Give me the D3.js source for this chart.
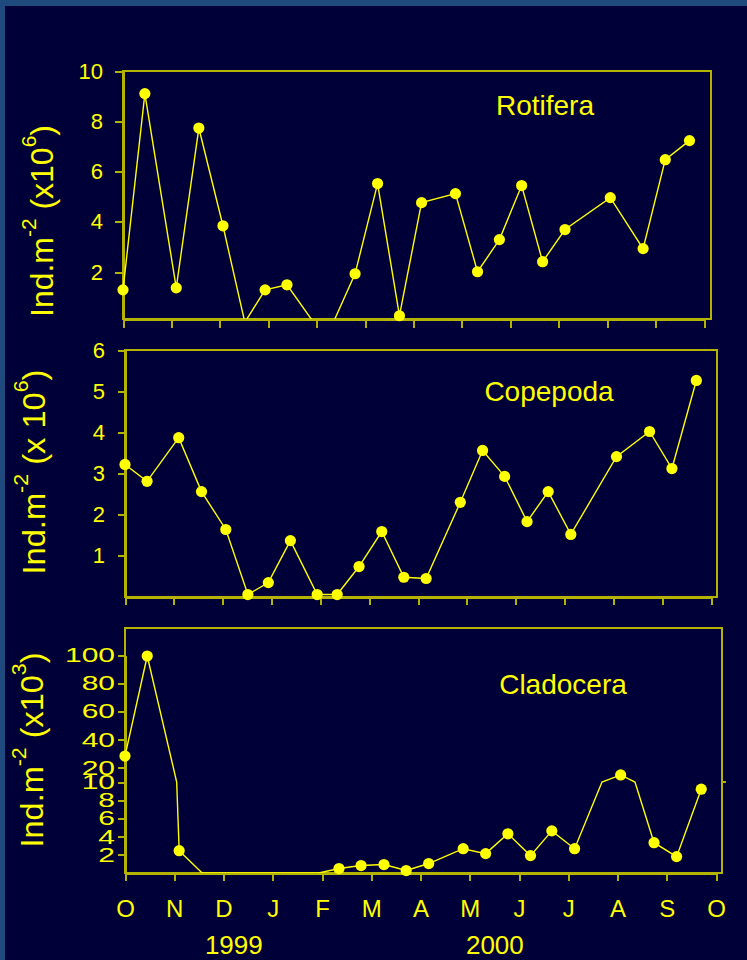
<!DOCTYPE html>
<html>
<head>
<meta charset="utf-8">
<script src="https://cdn.jsdelivr.net/npm/d3@7"></script>
<style>
  html, body { margin: 0; padding: 0; background: #000038; }
  svg { display: block; }
  text { font-family: Arial, "Liberation Sans", sans-serif; fill: #ffff00; }
</style>
</head>
<body>
<svg id="chart" width="747" height="960"></svg>
<script>
// sampling dates, same for the three groups
var sampleDates = ["1999-10-01", "1999-10-15", "1999-11-04", "1999-11-18", "1999-12-03", "1999-12-17",
  "1999-12-30", "2000-01-13", "2000-01-30", "2000-02-11", "2000-02-24", "2000-03-09",
  "2000-03-23", "2000-04-06", "2000-04-27", "2000-05-11", "2000-05-25", "2000-06-08",
  "2000-06-21", "2000-07-05", "2000-08-03", "2000-08-24", "2000-09-07", "2000-09-22"];

// Ind.m-2 (x10^6)
var rotifera = [1.29, 9.10, 1.37, 7.73, 3.84, 0, 1.29, 1.49, 0, 0, 1.93, 5.52,
  0.26, 4.76, 5.12, 2.01, 3.29, 5.44, 2.41, 3.69, 4.96, 2.93, 6.47, 7.23];
// Ind.m-2 (x 10^6)
var copepoda = [3.22, 2.81, 3.87, 2.56, 1.64, 0.06, 0.35, 1.37, 0.06, 0.06, 0.74, 1.59,
  0.48, 0.45, 2.30, 3.56, 2.93, 1.83, 2.56, 1.52, 3.41, 4.02, 3.12, 5.26];
// Ind.m-2 (x10^3)
var cladocera = [28.4, 99.3, 2.45, 0, 0, 0, 0, 0, 0, 0.49, 0.82, 0.93,
  0.27, 1.04, 2.67, 2.13, 4.31, 1.91, 4.63, 2.67, 15.0, 3.33, 1.80, 9.21];

var monthLabels = ["O", "N", "D", "J", "F", "M", "A", "M", "J", "J", "A", "S", "O"];
var yearLabels = ["1999", "2000"];
var rotiferaTicks = [2, 4, 6, 8, 10];
var copepodaTicks = [1, 2, 3, 4, 5, 6];
var cladoceraTicks = [2, 4, 6, 8, 10, 20, 40, 60, 80, 100];

var yellow = "#ffff00",
    axisColor = "#b4b400";

var svg = d3.select("#chart");
svg.append("rect").attr("width", 747).attr("height", 960).attr("fill", "#1f4a7e");
svg.append("rect").attr("x", 5).attr("y", 6).attr("width", 742).attr("height", 954).attr("fill", "#000038");

var parse = d3.timeParse("%Y-%m-%d");
function toMonths(s) {
  var d = parse(s),
      days = new Date(d.getFullYear(), d.getMonth() + 1, 0).getDate();
  return (d.getFullYear() - 1999) * 12 + d.getMonth() - 9 + (d.getDate() - 1) / days;
}
var months = sampleDates.map(toMonths);

function yTitle(cx, cy, len, mult, exp) {
  var t = svg.append("text")
      .attr("text-anchor", "middle")
      .style("font-size", "32px");
  t.append("tspan").text("Ind.m");
  t.append("tspan").attr("dy", -17).style("font-size", "21px").text("-2");
  t.append("tspan").attr("dy", 17).text("\u00a0(" + mult + "10");
  t.append("tspan").attr("dy", -17).style("font-size", "21px").text(exp);
  t.append("tspan").attr("dy", 17).text(")");
  var k = len / t.node().getComputedTextLength();
  t.attr("transform", "translate(" + cx + "," + cy + ") rotate(-90) scale(" + k + ",1)");
}

function panel(o) {
  var x = d3.scaleLinear().domain([0, 12]).range([o.left, o.tickRight]);
  var y = d3.scaleLinear().domain(o.yDomain).range(o.yRange);
  var top = o.top, bottom = o.yRange[0];
  var g = svg.append("g");

  // frame
  g.append("rect")
    .attr("x", o.left).attr("y", top)
    .attr("width", o.right - o.left).attr("height", bottom - top)
    .attr("fill", "none").attr("stroke", axisColor).attr("stroke-width", 2)
    .attr("shape-rendering", "crispEdges");

  var ya = g.append("g").attr("transform", "translate(" + o.left + ",0)")
    .call(d3.axisLeft(y).tickValues(o.ticks).tickSize(o.tickLen).tickSizeOuter(0)
      .tickPadding(o.pad).tickFormat(d3.format("d")));
  var xa = g.append("g").attr("transform", "translate(0," + bottom + ")")
    .call(d3.axisBottom(x).tickValues(d3.range(13)).tickSize(o.xTickLen).tickSizeOuter(0)
      .tickPadding(19).tickFormat(function (d) { return o.monthAxis ? monthLabels[d] : ""; }));

  [ya, xa].forEach(function (a) {
    a.selectAll("path, line").attr("stroke", axisColor).attr("stroke-width", 2)
      .attr("shape-rendering", "crispEdges");
    a.selectAll("text").attr("fill", yellow);
  });
  ya.selectAll("text").style("font-size", o.labelSize + "px");
  if (o.labelScale) {
    ya.selectAll("text").attr("transform", "scale(1," + o.labelScale + ")");
  }
  xa.selectAll("text").style("font-size", "24px");

  if (o.breakAt) {
    g.append("line")
      .attr("x1", o.right).attr("x2", o.right + 4)
      .attr("y1", y(o.breakAt)).attr("y2", y(o.breakAt))
      .attr("stroke", axisColor).attr("stroke-width", 2);
  }

  // line points, with a vertex where the line crosses the axis break
  var pts = [];
  o.values.forEach(function (v, i) {
    if (i > 0 && o.breakAt) {
      var pv = o.values[i - 1];
      if ((pv - o.breakAt) * (v - o.breakAt) < 0) {
        var t = (o.breakAt - pv) / (v - pv);
        pts.push({ m: months[i - 1] + t * (months[i] - months[i - 1]), v: o.breakAt });
      }
    }
    pts.push({ m: months[i], v: v });
  });

  var clipId = "clip" + o.id;
  svg.append("clipPath").attr("id", clipId).append("rect")
    .attr("x", o.left - 10).attr("y", top).attr("width", o.right - o.left + 20).attr("height", bottom - top);

  g.append("path")
    .datum(pts)
    .attr("clip-path", "url(#" + clipId + ")")
    .attr("fill", "none")
    .attr("stroke", yellow)
    .attr("stroke-width", 1.4)
    .attr("d", d3.line().x(function (d) { return x(d.m); }).y(function (d) { return y(d.v); }));

  g.selectAll("circle")
    .data(o.values.map(function (v, i) { return { m: months[i], v: v }; })
      .filter(function (d) { return d.v > 0 && d.v >= o.yDomain[0]; }))
    .enter().append("circle")
    .attr("cx", function (d) { return x(d.m); })
    .attr("cy", function (d) { return y(d.v); })
    .attr("r", 5.6)
    .attr("fill", yellow);

  g.append("text")
    .attr("x", o.titleX).attr("y", o.titleY)
    .attr("text-anchor", "middle")
    .style("font-size", "28px")
    .text(o.title);

  return x;
}

panel({
  id: 1, title: "Rotifera", values: rotifera, ticks: rotiferaTicks,
  left: 123, right: 711, tickRight: 704, top: 71,
  yDomain: [0.13, 10], yRange: [319, 71],
  tickLen: 8, xTickLen: 9, pad: 12, labelSize: 22,
  titleX: 545, titleY: 115
});
yTitle(53, 221, 192, "x", "6");

panel({
  id: 2, title: "Copepoda", values: copepoda, ticks: copepodaTicks,
  left: 125, right: 717, tickRight: 711, top: 350,
  yDomain: [0, 6], yRange: [597, 350],
  tickLen: 7, xTickLen: 8, pad: 13, labelSize: 22,
  titleX: 549, titleY: 401
});
yTitle(45, 472, 205, "x\u00a0", "6");

var x3 = panel({
  id: 3, title: "Cladocera", values: cladocera, ticks: cladoceraTicks,
  left: 125, right: 722, tickRight: 716, top: 628,
  yDomain: [0, 10, 100], yRange: [873, 782, 655], breakAt: 10,
  tickLen: 7, xTickLen: 8, pad: 3, labelSize: 30, labelScale: 0.68,
  monthAxis: true,
  titleX: 563, titleY: 694
});
yTitle(43, 750, 195, "x", "3");

svg.selectAll(".year")
  .data(yearLabels)
  .enter().append("text")
  .attr("class", "year")
  .attr("x", function (d, i) { return x3([2.21, 7.51][i]); })
  .attr("y", 954)
  .attr("text-anchor", "middle")
  .style("font-size", "26px")
  .text(function (d) { return d; });
</script>
</body>
</html>
